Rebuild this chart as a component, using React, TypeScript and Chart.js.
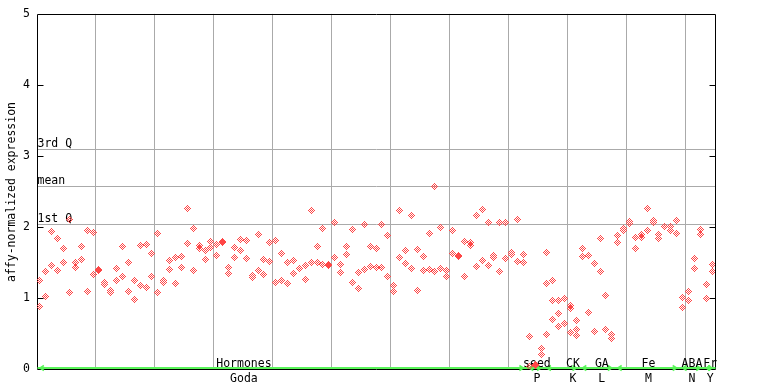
import React, { useEffect, useRef } from 'react';
import { Chart, registerables } from 'chart.js';

Chart.register(...registerables);

// replicate values per sample position (position index = array index)
const rep1 = [
  1.24, 1.37, 1.93, 1.84, 1.70, 2.10, 1.50, 1.72, 1.95, 1.92,
  1.40, 1.22, 1.10, 1.41, 1.72, 1.50, 1.24, 1.74, 1.75, 1.62,
  1.91, 1.25, 1.53, 1.57, 1.58, 2.26, 1.98, 1.74, 1.67, 1.79,
  1.75, 1.78, 1.43, 1.71, 1.82, 1.81, 1.32, 1.89, 1.54, 1.78,
  1.81, 1.63, 1.50, 1.53, 1.41, 1.46, 2.23, 1.72, 1.98, 1.46,
  2.06, 1.47, 1.72, 1.96, 1.36, 2.03, 1.72, 1.70, 2.03, 1.88,
  1.18, 2.23, 1.67, 2.16, 1.68, 1.58, 1.91, 2.57, 1.99, 1.39,
  1.95, 1.59, 1.79, 1.78, 2.16, 2.24, 2.06, 1.60, 2.06, 2.06,
  1.64, 2.10, 1.61, 0.46, 0.07, 0.29, 1.64, 1.25, 0.96, 0.99,
  0.89, 0.68, 1.70, 1.60, 1.48, 1.84, 1.04, 0.49, 1.88, 1.98,
  2.07, 1.85, 1.89, 2.26, 2.09, 1.89, 2.00, 2.00, 2.09, 1.01,
  1.09, 1.55, 1.96, 1.19, 1.47,
];
const rep2 = [
  0.88, 1.02, 1.46, 1.39, 1.50, 1.08, 1.43, 1.54, 1.09, 1.33,
  1.38, 1.19, 1.08, 1.25, 1.30, 1.09, 0.98, 1.18, 1.15, 1.30,
  1.08, 1.22, 1.40, 1.20, 1.43, 1.77, 1.39, 1.70, 1.54, 1.71,
  1.60, 1.79, 1.34, 1.57, 1.67, 1.55, 1.29, 1.39, 1.33, 1.51,
  1.22, 1.25, 1.20, 1.34, 1.42, 1.26, 1.50, 1.50, 1.47, 1.47,
  1.57, 1.36, 1.61, 1.22, 1.13, 1.40, 1.44, 1.43, 1.43, 1.30,
  1.09, 1.57, 1.48, 1.41, 1.11, 1.39, 1.40, 1.37, 1.41, 1.30,
  1.62, 1.60, 1.30, 1.74, 1.44, 1.53, 1.46, 1.57, 1.37, 1.55,
  1.61, 1.51, 1.50, 0.04, 0.05, 0.21, 1.20, 0.96, 0.78, 0.64,
  0.85, 0.56, 1.58, 0.80, 0.53, 1.37, 0.56, 0.43, 1.78, 1.95,
  2.05, 1.70, 1.85, 1.95, 2.06, 1.84, 2.01, 1.95, 1.91, 0.87,
  0.96, 1.41, 1.89, 0.99, 1.37,
];
const rep3Positions = [86, 87, 88, 90, 91];
const rep3Values = [0.49, 0.70, 0.60, 0.52, 0.47];

const positionCount = 115;

const groupNames = ['Hormones', 'seed', 'CK', 'GA', 'Fe', 'ABA', 'Fr'];
const groupCodes = ['Goda', 'P', 'K', 'L', 'M', 'N', 'Y'];
const groupFirst = [0, 83, 86, 92, 98, 109, 113];
const groupLast = [82, 85, 91, 97, 108, 112, 114];
const groupLabelPos = [35.1, 84.8, 90.9, 95.8, 103.7, 111.1, 114.2];

const statNames = ['3rd Q', 'mean', '1st Q'];
const statValues = [3.1, 2.58, 2.04];

const yTicks = [0, 1, 2, 3, 4, 5];

const FONT = '11.5px "DejaVu Sans Mono", monospace';
const RED = 'rgb(255,70,70)';
const GREEN = 'rgb(90,245,90)';
const GRID = '#aaaaaa';

function makeDiamond(color: string) {
  const c = document.createElement('canvas');
  c.width = 7;
  c.height = 7;
  const g = c.getContext('2d')!;
  g.fillStyle = color;
  for (let y = 0; y < 7; y++) {
    for (let x = 0; x < 7; x++) {
      const d = Math.abs(x - 3) + Math.abs(y - 3);
      if (d <= 3 && d % 2 === 1) g.fillRect(x, y, 1, 1);
    }
  }
  return c;
}

const snapPlugin = {
  id: 'snap',
  afterDatasetsUpdate(chart: any) {
    chart.data.datasets.forEach((_d: any, i: number) => {
      const meta = chart.getDatasetMeta(i);
      meta.data.forEach((el: any) => {
        el.x = Math.floor(el.x) + 0.5;
        el.y = Math.floor(el.y) + 0.5;
      });
    });
  },
};

const decorPlugin = {
  id: 'decor',
  beforeDatasetsDraw(chart: any) {
    const { ctx, chartArea } = chart;
    const xs = chart.scales.x;
    const ys = chart.scales.y;
    const L = Math.round(chartArea.left) + 0.5;
    const R = Math.round(chartArea.right) + 0.5;
    const T = Math.round(chartArea.top) + 0.5;
    const B = Math.round(chartArea.bottom) + 0.5;
    ctx.save();
    ctx.strokeStyle = GRID;
    ctx.lineWidth = 1;
    ctx.font = FONT;
    ctx.fillStyle = '#000';
    ctx.textAlign = 'left';
    ctx.textBaseline = 'alphabetic';
    statValues.forEach((v, i) => {
      const y = Math.round(ys.getPixelForValue(v)) + 0.5;
      ctx.beginPath();
      ctx.moveTo(L, y);
      ctx.lineTo(R, y);
      ctx.stroke();
      ctx.fillText(statNames[i], L, y - 2.5);
    });
    ctx.strokeStyle = '#000';
    ctx.beginPath();
    ctx.rect(L, T, R - L, B - T);
    ctx.stroke();
    yTicks.forEach((v) => {
      if (v === 0 || v === 5) return;
      const y = Math.round(ys.getPixelForValue(v)) + 0.5;
      ctx.beginPath();
      ctx.moveTo(L, y);
      ctx.lineTo(L + 6, y);
      ctx.moveTo(R, y);
      ctx.lineTo(R - 6, y);
      ctx.stroke();
    });
    ctx.save();
    ctx.translate(12, (T + B) / 2);
    ctx.rotate(-Math.PI / 2);
    ctx.textAlign = 'center';
    ctx.textBaseline = 'middle';
    ctx.fillText('affy-normalized expression', 0, 0);
    ctx.restore();
    // green group line
    const gy = B - 1.5;
    ctx.strokeStyle = GREEN;
    ctx.lineWidth = 2;
    ctx.beginPath();
    ctx.moveTo(L, gy);
    ctx.lineTo(R, gy);
    ctx.stroke();
    ctx.lineWidth = 1.5;
    groupFirst.forEach((f, i) => {
      const x0 = xs.getPixelForValue(f + 0.5);
      const x1 = xs.getPixelForValue(groupLast[i] + 0.5);
      ctx.beginPath();
      ctx.moveTo(x0 + 4, gy - 2.5);
      ctx.lineTo(x0, gy);
      ctx.lineTo(x0 + 4, gy + 2.5);
      ctx.stroke();
      ctx.beginPath();
      ctx.moveTo(x1 - 4, gy - 2.5);
      ctx.lineTo(x1, gy);
      ctx.lineTo(x1 - 4, gy + 2.5);
      ctx.stroke();
    });
    ctx.fillStyle = '#000';
    ctx.font = FONT;
    ctx.textAlign = 'center';
    ctx.textBaseline = 'alphabetic';
    groupNames.forEach((n, i) => {
      const x = xs.getPixelForValue(groupLabelPos[i]);
      ctx.fillText(n, x, B - 3);
      ctx.fillText(groupCodes[i], x, B + 12);
    });
    ctx.restore();
  },
};

export default function App() {
  const ref = useRef<HTMLCanvasElement | null>(null);
  useEffect(() => {
    document.body.style.margin = '0';
    const canvas = ref.current!;
    const img = makeDiamond(RED);
    const d1 = rep1.map((v, i) => ({ x: i + 0.5, y: v }));
    const d2 = rep2.map((v, i) => ({ x: i + 0.5, y: v }));
    const d3 = rep3Positions.map((p, j) => ({ x: p + 0.5, y: rep3Values[j] }));
    const ds = (data: any[]) => ({
      data,
      pointStyle: img,
      pointRadius: 3.5,
      showLine: false,
    });
    const chart = new Chart(canvas, {
      type: 'scatter',
      data: { datasets: [ds(d1), ds(d2), ds(d3)] },
      options: {
        animation: false,
        responsive: false,
        events: [],
        layout: { padding: { left: 0, top: 13, right: 53, bottom: 15 } },
        plugins: { legend: { display: false }, tooltip: { enabled: false } },
        scales: {
          x: {
            type: 'linear',
            min: 0,
            max: positionCount,
            border: { display: false },
            grid: { color: GRID, drawTicks: false, lineWidth: 1 },
            ticks: { display: false },
            afterBuildTicks: (scale: any) => {
              const t: any[] = [];
              for (let v = 10; v < positionCount; v += 10) t.push({ value: v });
              scale.ticks = t;
            },
            afterFit: (scale: any) => {
              scale.height = 0;
            },
          },
          y: {
            type: 'linear',
            min: 0,
            max: 5,
            border: { display: false },
            grid: { display: false, drawTicks: false },
            ticks: {
              stepSize: 1,
              padding: 7,
              color: '#000',
              font: { family: '"DejaVu Sans Mono", monospace', size: 11.5 },
            },
            afterBuildTicks: (scale: any) => {
              scale.ticks = yTicks.map((v) => ({ value: v }));
            },
            afterFit: (scale: any) => {
              scale.width = 37;
            },
          },
        },
      },
      plugins: [snapPlugin, decorPlugin],
    });
    return () => chart.destroy();
  }, []);
  return <canvas ref={ref} width={768} height={384} style={{ display: 'block' }} />;
}
